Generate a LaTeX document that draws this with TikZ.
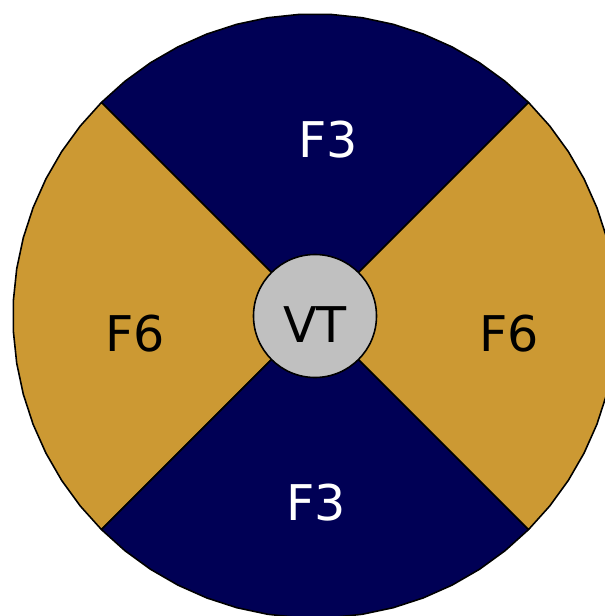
\documentclass[tikz,border=0pt]{standalone}
\usepackage{fontspec}
\setmainfont{DejaVu Sans}
\usepackage{tikz}
\usetikzlibrary{positioning}
\definecolor{fnavy}{RGB}{0,0,85}
\definecolor{fgold}{RGB}{204,153,51}
\definecolor{vtgray}{RGB}{192,192,192}

\begin{document}
\begin{tikzpicture}[
  sector/.style={draw=black, line width=0.9pt, line join=round},
  zone/.style={font=\fontsize{28}{32}\selectfont},
  hub/.style={circle, draw=black, line width=0.9pt, fill=vtgray, minimum size=2.46cm, inner sep=0pt}
]
\useasboundingbox (-6.3,-6.0) rectangle (5.8,6.32);
\clip (-6.3,-6.0) rectangle (5.8,6.32);

% four quarters, faceted rim
\foreach \a/\b/\col in {45/135/fnavy, 135/225/fgold, 225/315/fnavy, 315/405/fgold}
  \filldraw[sector, fill=\col] (0,0) -- plot[domain=\a:\b, samples=16] (\x:6.04) -- cycle;

\node[hub] (vt) at (0,0) {};
\node[zone] (vtlabel) at (0,-0.17) {VT};

\node[zone, text=white] (f3top) at (0.26,3.52) {F3};
\node[zone, text=white] (f3bot) at (0.02,-3.74) {F3};
\node[zone] (f6left) at (-3.6,-0.36) {F6};
\node[zone] (f6right) at (3.88,-0.36) {F6};
\end{tikzpicture}
\end{document}
